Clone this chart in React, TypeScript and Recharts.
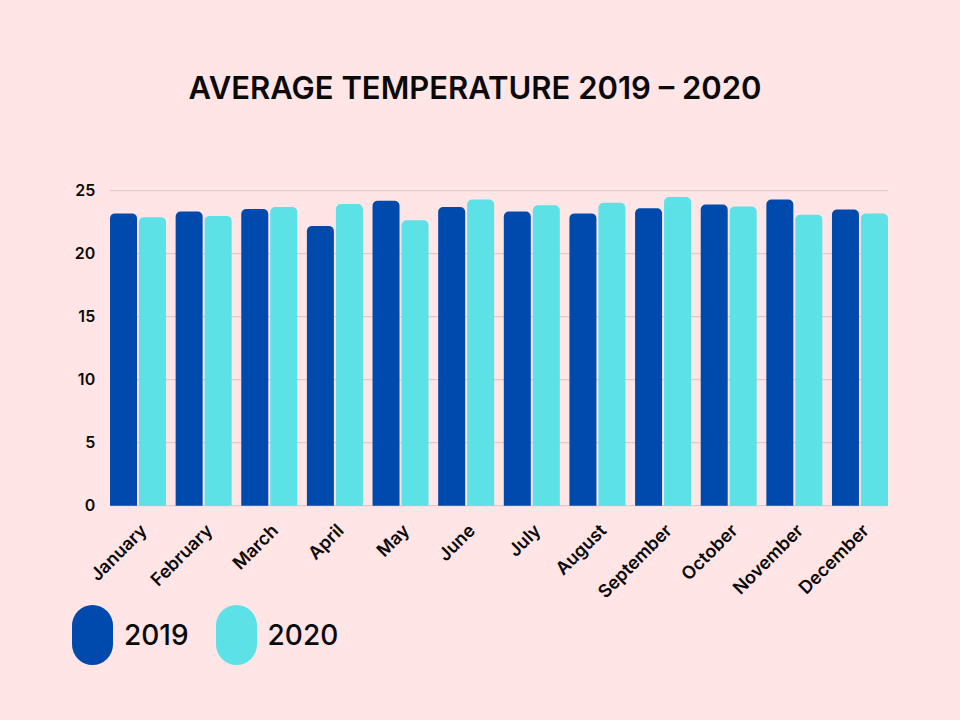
import React from 'react';
import { BarChart, Bar, XAxis, YAxis, CartesianGrid, Legend } from 'recharts';

const MONTHS = ['January', 'February', 'March', 'April', 'May', 'June', 'July', 'August', 'September', 'October', 'November', 'December'];
const TEMP_2019 = [23.2, 23.35, 23.55, 22.2, 24.2, 23.7, 23.35, 23.2, 23.6, 23.9, 24.3, 23.5];
const TEMP_2020 = [22.9, 23.0, 23.7, 23.95, 22.65, 24.3, 23.85, 24.05, 24.5, 23.75, 23.1, 23.2];
const Y_TICKS = [0, 5, 10, 15, 20, 25];
const SERIES = [
  { key: 'y2019', name: '2019', color: '#004AAD' },
  { key: 'y2020', name: '2020', color: '#5CE1E6' },
];

const data = MONTHS.map((m, i) => ({ month: m, y2019: TEMP_2019[i], y2020: TEMP_2020[i] }));

const FONT = 'Inter, "Open Sans", sans-serif';

const XTick = (props: any) => {
  const { x, y, payload } = props;
  const ax = x + 10;
  const ay = y + 18;
  return (
    <text
      x={ax}
      y={ay}
      transform={`rotate(-45, ${ax}, ${ay})`}
      textAnchor="end"
      fontFamily={FONT}
      fontSize={18}
      fontWeight={600}
      fill="#0a0a0a"
    >
      {payload.value}
    </text>
  );
};

const renderLegend = (props: any) => {
  const { payload } = props;
  return (
    <div style={{ display: 'flex', alignItems: 'center', height: 60 }}>
      {(payload || []).map((entry: any, i: number) => (
        <div key={i} style={{ display: 'flex', alignItems: 'center', marginRight: 27 }}>
          <div style={{ width: 41, height: 60, borderRadius: 21, background: entry.color }} />
          <span style={{ marginLeft: 11, fontFamily: FONT, fontSize: 28, fontWeight: 500, color: '#0a0a0a' }}>
            {entry.value}
          </span>
        </div>
      ))}
    </div>
  );
};

export default function App() {
  return (
    <div style={{ position: 'absolute', left: 0, top: 0, width: 960, height: 720, background: '#FFE5E5', overflow: 'hidden' }}>
      <div
        style={{
          position: 'absolute',
          left: 0,
          top: 68,
          width: 950,
          textAlign: 'center',
          fontFamily: FONT,
          fontSize: 31,
          fontWeight: 600,
          color: '#0a0a0a',
          lineHeight: '40px',
        }}
      >
        AVERAGE TEMPERATURE 2019 – 2020
      </div>
      <BarChart
        width={960}
        height={720}
        data={data}
        margin={{ top: 190.7, right: 67.2, left: 0, bottom: 114.3 }}
        barCategoryGap={4.8}
        barGap={2}
      >
        <CartesianGrid vertical={false} stroke="#D8C4C4" x={110} width={778} />
        <XAxis
          dataKey="month"
          height={100}
          axisLine={false}
          tickLine={false}
          interval={0}
          tick={<XTick />}
        />
        <YAxis
          width={105.2}
          domain={[0, 25]}
          ticks={Y_TICKS}
          axisLine={false}
          tickLine={false}
          tickMargin={4}
          tick={{ fontFamily: FONT, fontSize: 16, fontWeight: 600, fill: '#0a0a0a' }}
        />
        <Legend
          layout="horizontal"
          align="center"
          verticalAlign="middle"
          content={renderLegend}
          wrapperStyle={{ position: 'absolute', left: 72, top: 605, width: 400, height: 60 }}
        />
        {SERIES.map((s) => (
          <Bar
            key={s.key}
            dataKey={s.key}
            name={s.name}
            fill={s.color}
            radius={[5, 5, 0, 0]}
            isAnimationActive={false}
          />
        ))}
      </BarChart>
    </div>
  );
}
